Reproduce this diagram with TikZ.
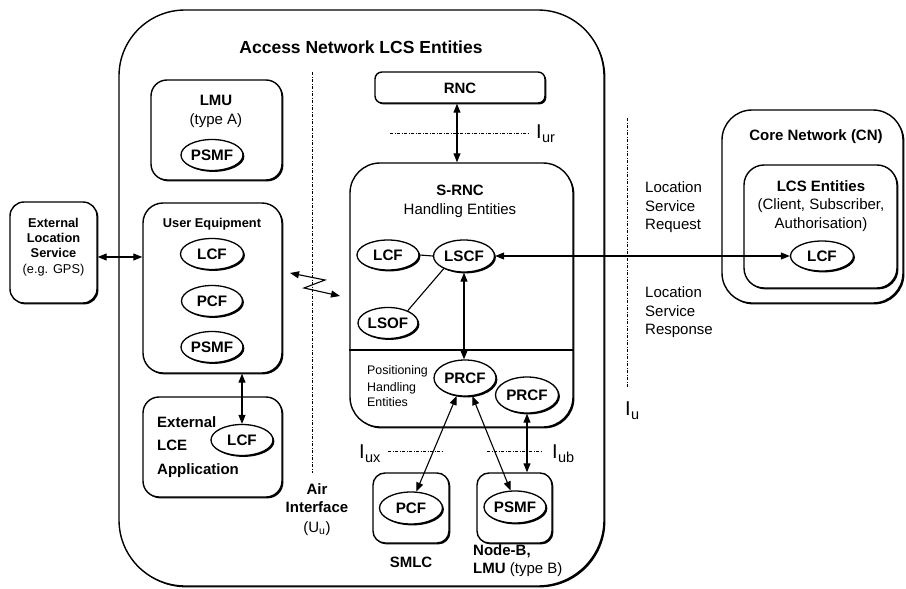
\documentclass[tikz,border=0pt]{standalone}
\usepackage{fontspec}
\setmainfont{Liberation Sans}
\usetikzlibrary{shapes.geometric,arrows.meta,shadows}
\newcommand\szT{\fontsize{17.5}{20}\selectfont}
\newcommand\szM{\fontsize{15}{18}\selectfont}
\newcommand\szS{\fontsize{12.8}{15}\selectfont}
\newcommand\szP{\fontsize{12.4}{15}\selectfont}
\newcommand\szE{\fontsize{15.2}{17}\selectfont}
\newcommand\ilab[1]{{\fontsize{20}{20}\selectfont I}\kern0.3pt\raisebox{-4pt}{\fontsize{14.5}{15}\selectfont #1}}
\begin{document}
\begin{tikzpicture}[x=1pt,y=-1pt,
  shad/.style={general shadow={fill=black, shadow xshift=1.4pt, shadow yshift=-1.4pt}},
  bx/.style={draw, line width=1.4pt, fill=white, inner sep=0, shad},
  el/.style={ellipse, draw, line width=1.3pt, fill=white, inner sep=0, shad, font=\szE\bfseries},
  tM/.style={inner sep=0, font=\szM, text height=10.7pt, text depth=0pt},
  tMB/.style={tM, font=\szM\bfseries},
  tT/.style={inner sep=0, font=\szT\bfseries, text height=12.5pt, text depth=0pt},
  tSB/.style={inner sep=0, font=\szS\bfseries, text height=9.2pt, text depth=0pt},
  tS/.style={inner sep=0, font=\szS, text height=9.2pt, text depth=0pt},
  tP/.style={inner sep=0, font=\szP, text height=8.9pt, text depth=0pt, anchor=west},
  dd/.style={line width=0.9pt, dash pattern=on 3pt off 1.5pt on 1pt off 1.5pt},
  arr/.style={line width=1.1pt, {Triangle[length=9pt,width=7pt]}-{Triangle[length=9pt,width=7pt]}},
  ln/.style={line width=1.1pt}]
\useasboundingbox (0,0) rectangle (906,589);

% ---- boxes ----
\node[bx, minimum width=485pt, minimum height=576pt, rounded corners=66pt] (big) at (361.5,298) {};
\node[tT] (title) at (361,47) {Access Network LCS Entities};

\node[bx, minimum width=87pt, minimum height=101pt, rounded corners=14pt] (ext) at (53.5,252.5) {};
\node[bx, minimum width=131pt, minimum height=100pt, rounded corners=16pt] (lmu) at (216.5,130) {};
\node[bx, minimum width=139pt, minimum height=170pt, rounded corners=20pt] (ue) at (212.5,288) {};
\node[bx, minimum width=139pt, minimum height=100pt, rounded corners=16pt] (lce) at (212.5,447) {};
\node[bx, minimum width=170pt, minimum height=31pt, rounded corners=7pt] (rnc) at (460,87.5) {};
\node[bx, minimum width=223pt, minimum height=264pt, rounded corners=30pt] (srnc) at (461.5,295) {};
\node[bx, minimum width=76pt, minimum height=70pt, rounded corners=12pt] (smlc) at (411,508) {};
\node[bx, minimum width=75pt, minimum height=70pt, rounded corners=12pt] (nodeb) at (514.5,508) {};
\node[bx, minimum width=181pt, minimum height=193pt, rounded corners=30pt] (cn) at (812.5,206.5) {};
\node[bx, minimum width=153pt, minimum height=123pt, rounded corners=20pt] (lcs) at (820.5,226.5) {};

\draw[line width=1.1pt] (srnc.west |- 0,350) coordinate (dv1) -- (srnc.east |- 0,350) coordinate (dv2);

% ---- texts ----
\node[tMB] (lmut) at (216,100) {LMU};
\node[tM] (lmut2) at (216,119) {(type A)};
\node[tSB] (uet) at (212,223) {User Equipment};
\node[tSB] (ext1) at (53.5,223) {External};
\node[tSB] (ext2) at (53.5,238) {Location};
\node[tSB] (ext3) at (53.5,253) {Service};
\node[tS] (ext4) at (53.5,269) {(e.g. GPS)};
\node[tMB, anchor=west] (lce1) at (157,422) {External};
\node[tMB, anchor=west] (lce2) at (157,445) {LCE};
\node[tMB, anchor=west] (lce3) at (157,469) {Application};
\node[tMB] (air1) at (317,489) {Air};
\node[tMB] (air2) at (317,507) {Interface};
\node[tM] (air3) at (317,527) {(U\textsubscript{u})};
\node[tMB] (rnct) at (460,88) {RNC};
\node[tMB] (srnct1) at (460,190) {S-RNC};
\node[tM] (srnct2) at (460,209) {Handling Entities};
\node[tP] (pos1) at (367,370) {Positioning};
\node[tP] (pos2) at (367,387) {Handling};
\node[tP] (pos3) at (367,402) {Entities};
\node[tMB] (smlct) at (411,562) {SMLC};
\node[tMB, anchor=west] (nb1) at (473,550) {Node-B,};
\node[tM, anchor=west] (nb2) at (473,568) {\bfseries LMU \mdseries(type B)};
\node[tM, anchor=west] (req1) at (645,187) {Location};
\node[tM, anchor=west] (req2) at (645,206) {Service};
\node[tM, anchor=west] (req3) at (645,224) {Request};
\node[tM, anchor=west] (rsp1) at (645,292) {Location};
\node[tM, anchor=west] (rsp2) at (645,311) {Service};
\node[tM, anchor=west] (rsp3) at (645,329) {Response};
\node[tMB] (cnt) at (816,135) {Core Network (CN)};
\node[tMB] (lcst1) at (821,186) {LCS Entities};
\node[tM] (lcst2) at (821,204) {(Client, Subscriber,};
\node[tM] (lcst3) at (821,223) {Authorisation)};

% ---- ellipses ----
\node[el, minimum width=62pt, minimum height=31pt] (lmupsmf) at (212,155) {PSMF};
\node[el, minimum width=63pt, minimum height=31pt] (uelcf) at (212,254) {LCF};
\node[el, minimum width=61pt, minimum height=31pt] (uepcf) at (212,301) {PCF};
\node[el, minimum width=62pt, minimum height=31pt] (uepsmf) at (212,347) {PSMF};
\node[el, minimum width=62pt, minimum height=31pt] (lcelcf) at (242,440) {LCF};
\node[el, minimum width=62pt, minimum height=30pt] (slcf) at (388,255) {LCF};
\node[el, minimum width=61pt, minimum height=32pt] (slscf) at (464,256) {LSCF};
\node[el, minimum width=60pt, minimum height=31pt] (slsof) at (388,323) {LSOF};
\node[el, minimum width=62pt, minimum height=36pt] (prcf1) at (465,378) {PRCF};
\node[el, minimum width=63pt, minimum height=36pt] (prcf2) at (527,395) {PRCF};
\node[el, minimum width=63pt, minimum height=32pt] (smlcpcf) at (411,508) {PCF};
\node[el, minimum width=62pt, minimum height=32pt] (nbpsmf) at (515,507) {PSMF};
\node[el, minimum width=63pt, minimum height=30pt] (cnlcf) at (822,256) {LCF};

% ---- interface lines ----
\draw[dd] (312,72) coordinate (air_a) -- (312,473) coordinate (air_b);
\draw[dd] (627,118) coordinate (iu_a) -- (627,388) coordinate (iu_b);
\draw[dd] (390,133) coordinate (iur_a) -- (528,133) coordinate (iur_b);
\draw[dd] (388,451) coordinate (iux_a) -- (443,451) coordinate (iux_b);
\draw[dd] (487,451) coordinate (iub_a) -- (542,451) coordinate (iub_b);
\node[inner sep=0, anchor=base west] (iurl) at (536,138) {\ilab{ur}};
\node[inner sep=0, anchor=base west] (iuxl) at (359,458) {\ilab{ux}};
\node[inner sep=0, anchor=base west] (iubl) at (552,458) {\ilab{ub}};
\node[inner sep=0, anchor=base west] (iul) at (625,415) {\ilab{u}};

% ---- connectors ----
\draw[arr] ([yshift=-4.5pt]ext.east) -- ([yshift=-4.5pt]ext.east -| ue.west);
\draw[arr] (lcelcf.north |- ue.south) -- (lcelcf.north);
\draw[arr] ([xshift=-3pt]rnc.south) -- ([xshift=-3pt]rnc.south |- srnc.north);
\draw[ln] (slcf.east) -- (slscf.west);
\draw[ln] (slsof.32) -- (slscf.212);
\draw[arr] (slscf.south) -- (slscf.south |- prcf1.north);
\draw[arr] (slscf.east) -- (cnlcf.west);
\draw[arr] (prcf1.245) -- (smlcpcf.72);
\draw[arr] (prcf1.292) -- (nbpsmf.105);
\draw[arr] (prcf2.south) -- (prcf2.south |- nodeb.north);
\coordinate (z1) at (290,273);
\coordinate (z2) at (325,280);
\coordinate (z3) at (304,288);
\coordinate (z4) at (340,296);
\draw[arr] (z1) -- (z2) -- (z3) -- (z4);
\end{tikzpicture}
\end{document}
